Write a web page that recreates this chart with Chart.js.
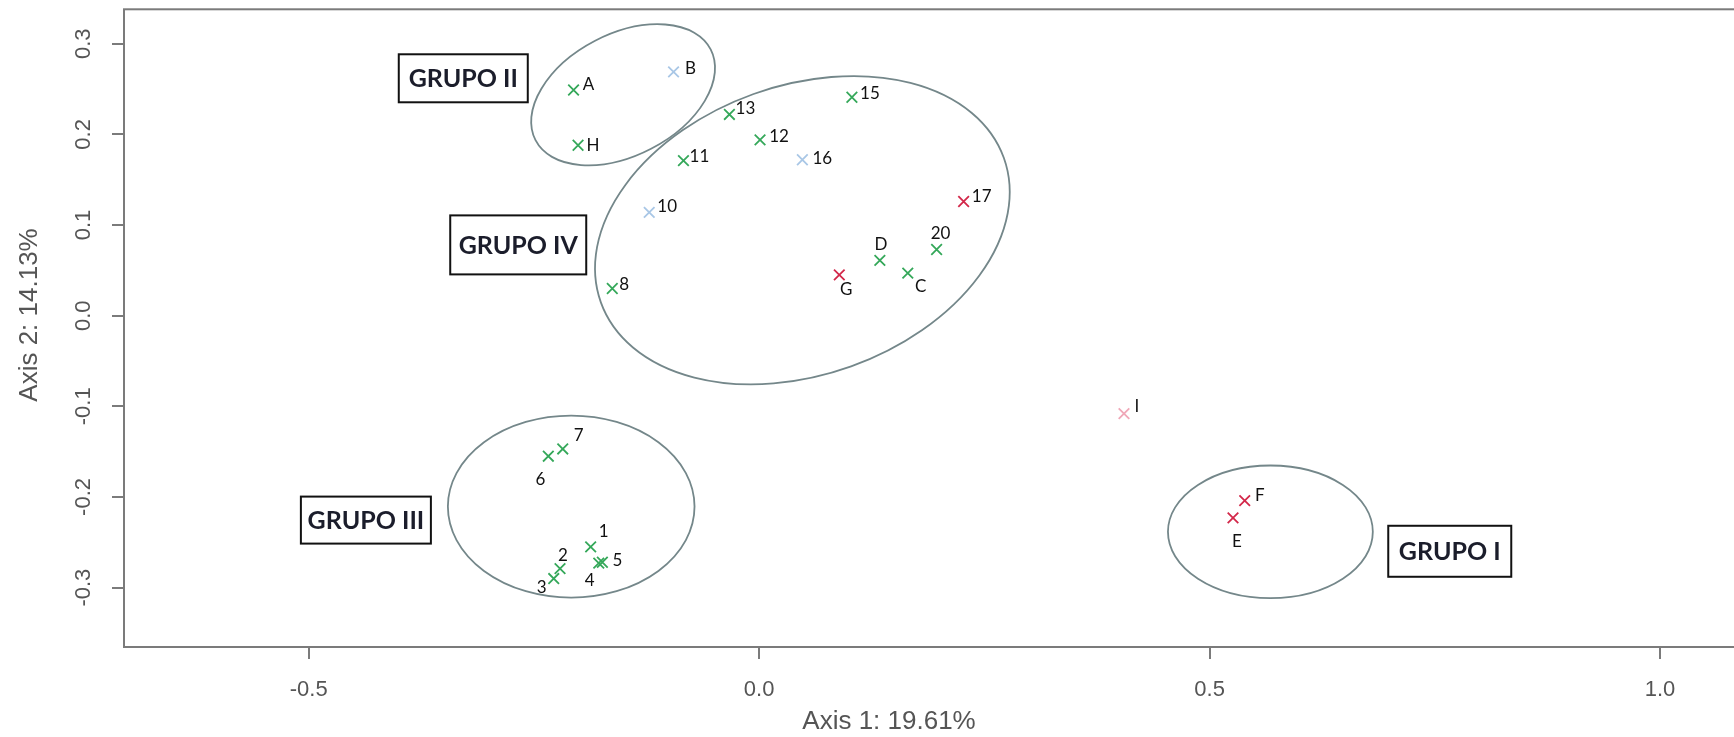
<!DOCTYPE html>
<html>
<head>
<meta charset="utf-8">
<script src="https://cdn.jsdelivr.net/npm/chart.js@4.4.1/dist/chart.umd.min.js"></script>
<style>
  html, body { margin: 0; padding: 0; background: #fff; overflow: hidden; }
  #wrap { width: 1745px; height: 737px; }
</style>
</head>
<body>
<div id="wrap"><canvas id="pcoa" width="1745" height="737"></canvas></div>
<script>
// PCoA scores (axis 1 / axis 2) and the colour class of each sample
const pointNames = ['A', 'B', 'H', '13', '15', '12', '11', '16', '10', '17', '20', 'D', 'C', 'G', '8', 'I', 'F', 'E', '7', '6', '1', '5', '4', '2', '3'];
const axis1 = [-0.206, -0.095, -0.201, -0.033, 0.103, 0.001, -0.084, 0.048, -0.122, 0.227, 0.197, 0.134, 0.165, 0.089, -0.163, 0.405, 0.539, 0.526, -0.218, -0.234, -0.187, -0.174, -0.178, -0.221, -0.228];
const axis2 = [0.249, 0.269, 0.188, 0.222, 0.241, 0.194, 0.171, 0.172, 0.114, 0.126, 0.073, 0.061, 0.047, 0.045, 0.030, -0.108, -0.204, -0.223, -0.147, -0.155, -0.255, -0.272, -0.273, -0.279, -0.290];
const pointClass = ['green', 'blue', 'green', 'green', 'green', 'green', 'green', 'blue', 'blue', 'red', 'green', 'green', 'green', 'red', 'green', 'pink', 'red', 'red', 'green', 'green', 'green', 'green', 'green', 'green', 'green'];
const xTickLabels = ['-0.5', '0.0', '0.5', '1.0'];
const yTickLabels = ['-0.3', '-0.2', '-0.1', '0.0', '0.1', '0.2', '0.3'];
const axisTitles = ['Axis 1: 19.61%', 'Axis 2: 14.13%'];
const groupNames = ['GRUPO I', 'GRUPO II', 'GRUPO III', 'GRUPO IV'];

const classColour = { green: '#35a85a', blue: '#a9c7e6', red: '#d3284a', pink: '#f0a8b8' };

// where each name sits relative to its cross (px)
const labelOffset = {
  A: [15, -5], B: [17, -3], H: [15, 0], '13': [16, -6], '15': [18, -4], '12': [19, -3],
  '11': [16, -4], '16': [20, -1], '10': [18, -6], '17': [18, -5], '20': [4, -16], D: [1, -16],
  C: [13, 13], G: [7, 15], '8': [12, -4], I: [13, -7], F: [15, -5], E: [4, 24],
  '7': [16, -13], '6': [-8, 23], '1': [13, -15], '5': [15, -2], '4': [-9, 17], '2': [3, -13], '3': [-12, 9]
};

// group outlines (centre in axis units, semi-axes in axis-1 units, tilt in degrees)
const outlines = [
  { cx: 0.5675, cy: -0.2384, a: 0.1137, b: 0.0736, tilt: 0 },
  { cx: -0.151, cy: 0.2437, a: 0.1095, b: 0.0675, tilt: 27.4 },
  { cx: -0.2086, cy: -0.2106, a: 0.1369, b: 0.101, tilt: 0 },
  { cx: 0.048, cy: 0.0943, a: 0.2376, b: 0.1606, tilt: 19.7 }
];
// boxed group captions, same order as groupNames
const captionBoxes = [
  { x: 0.7666, y: -0.2599, w: 123, h: 51 },
  { x: -0.3284, y: 0.2619, w: 129, h: 48 },
  { x: -0.4365, y: -0.2255, w: 130, h: 47 },
  { x: -0.2674, y: 0.0781, w: 136, h: 59 }
];

const points = pointNames.map((n, i) => ({ x: axis1[i], y: axis2[i], name: n }));
const datasets = Object.keys(classColour).map(c => ({
  label: c,
  data: points.filter((p, i) => pointClass[i] === c),
  showLine: false,
  pointStyle: 'crossRot',
  pointRadius: 7.5,
  pointHoverRadius: 7.5,
  borderWidth: 1.8,
  borderColor: classColour[c],
  backgroundColor: classColour[c]
}));

const overlay = {
  id: 'overlay',
  beforeDatasetsDraw(chart) {
    const { ctx, chartArea: ca, scales: { x, y } } = chart;
    const unit = x.getPixelForValue(1) - x.getPixelForValue(0);
    ctx.save();
    // plot frame
    ctx.strokeStyle = '#7b7b7b';
    ctx.lineWidth = 2;
    ctx.strokeRect(ca.left, ca.top, ca.right - ca.left, ca.bottom - ca.top);
    // ellipses
    ctx.strokeStyle = '#74878a';
    ctx.lineWidth = 1.8;
    outlines.forEach(o => {
      ctx.beginPath();
      ctx.ellipse(x.getPixelForValue(o.cx), y.getPixelForValue(o.cy), o.a * unit, o.b * unit,
        -o.tilt * Math.PI / 180, 0, 2 * Math.PI);
      ctx.stroke();
    });
    // group captions
    ctx.lineWidth = 2;
    ctx.strokeStyle = '#111';
    ctx.fillStyle = '#1b1d2b';
    ctx.font = 'bold 25px Lato';
    ctx.textAlign = 'center';
    ctx.textBaseline = 'middle';
    captionBoxes.forEach((b, i) => {
      const px = x.getPixelForValue(b.x), py = y.getPixelForValue(b.y);
      ctx.strokeRect(px - b.w / 2, py - b.h / 2, b.w, b.h);
      ctx.fillText(groupNames[i], px, py + 1);
    });
    ctx.restore();
  },
  afterDatasetsDraw(chart) {
    const { ctx, scales: { x, y } } = chart;
    ctx.save();
    ctx.fillStyle = '#111';
    ctx.font = '17px Lato';
    ctx.textAlign = 'center';
    ctx.textBaseline = 'middle';
    points.forEach(p => {
      const off = labelOffset[p.name] || [12, -5];
      ctx.fillText(p.name, x.getPixelForValue(p.x) + off[0], y.getPixelForValue(p.y) + off[1]);
    });
    // axis titles
    ctx.fillStyle = '#555';
    ctx.font = '26px "Liberation Sans"';
    ctx.fillText(axisTitles[0], 889, 722);
    ctx.translate(30, 315);
    ctx.rotate(-Math.PI / 2);
    ctx.fillText(axisTitles[1], 0, 0);
    ctx.restore();
  }
};

const tickFont = { family: 'Liberation Sans', size: 22 };

new Chart(document.getElementById('pcoa'), {
  type: 'scatter',
  data: { datasets },
  options: {
    responsive: false,
    animation: false,
    layout: { padding: { top: 9, left: 0, right: 0, bottom: 0 } },
    plugins: { legend: { display: false }, tooltip: { enabled: false } },
    scales: {
      x: {
        type: 'linear',
        min: -0.705,
        max: 1.084,
        afterBuildTicks: s => { s.ticks = xTickLabels.map(t => ({ value: parseFloat(t) })); },
        afterFit: s => { s.height = 90; s.paddingLeft = 0; s.paddingRight = 0; },
        ticks: {
          callback: (v, i) => xTickLabels[i],
          color: '#555', font: tickFont, padding: 18, maxRotation: 0, autoSkip: false
        },
        grid: { drawOnChartArea: false, drawTicks: true, tickLength: 12, tickColor: '#7b7b7b', lineWidth: 2 },
        border: { display: false }
      },
      y: {
        type: 'linear',
        min: -0.3655,
        max: 0.338,
        afterBuildTicks: s => { s.ticks = yTickLabels.map(t => ({ value: parseFloat(t) })); },
        afterFit: s => { s.width = 124; s.paddingTop = 0; s.paddingBottom = 0; },
        ticks: {
          callback: (v, i) => yTickLabels[i],
          color: '#555', font: tickFont, padding: 9, minRotation: 90, maxRotation: 90,
          crossAlign: 'center', autoSkip: false
        },
        grid: { drawOnChartArea: false, drawTicks: true, tickLength: 12, tickColor: '#7b7b7b', lineWidth: 2 },
        border: { display: false }
      }
    }
  },
  plugins: [overlay]
});
</script>
</body>
</html>
